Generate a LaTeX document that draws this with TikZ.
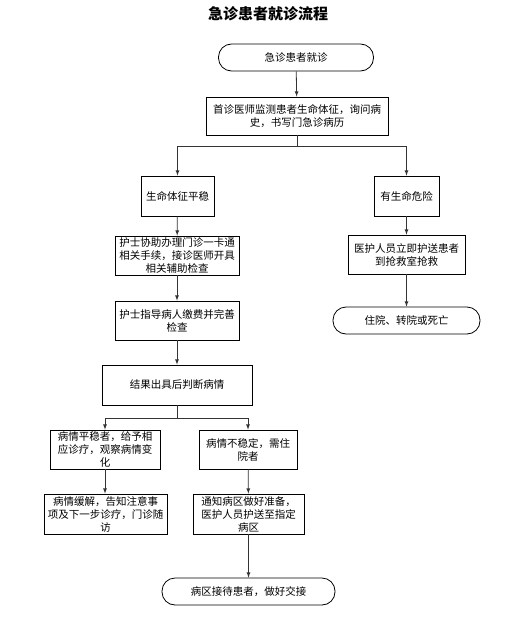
\documentclass[tikz,border=0pt]{standalone}
\usepackage{fontspec}
\newfontfamily\cjk{Noto Sans CJK SC}
\usetikzlibrary{arrows,shapes}

\begin{document}
\begin{tikzpicture}[x=1pt, y=-1pt, line width=0.8pt,
box/.style={draw, rectangle, inner sep=0pt, align=center, font=\cjk\fontsize{10.5}{13}\selectfont},
term/.style={box, rounded corners=13pt, minimum height=27pt},
flow/.style={-latex, draw=black!80}]
\useasboundingbox (0,0) rectangle (530,629);
\node[font=\cjk\bfseries\fontsize{15}{18}\selectfont] (title) at (268,14) {急诊患者就诊流程};
\node[term, minimum width=155pt] (start) at (296,57.5) {急诊患者就诊};
\node[box, minimum width=182pt, minimum height=38pt] (exam) at (297,116) {首诊医师监测患者生命体征，询问病\\史，书写门急诊病历};
\node[box, minimum width=73pt, minimum height=40pt] (stable) at (177.5,196) {生命体征平稳};
\node[box, minimum width=65pt, minimum height=40pt] (danger) at (406.5,196) {有生命危险};
\node[box, minimum width=124pt, minimum height=39pt] (assist) at (177,255.5) {护士协助办理门诊一卡通\\相关手续，接诊医师开具\\相关辅助检查};
\node[box, minimum width=117pt, minimum height=39pt] (rescue) at (406.5,254.5) {医护人员立即护送患者\\到抢救室抢救};
\node[term, minimum width=147pt] (outcome) at (406.5,320.5) {住院、转院或死亡};
\node[box, minimum width=124pt, minimum height=39pt] (pay) at (177,320.5) {护士指导病人缴费并完善\\检查};
\node[box, minimum width=150pt, minimum height=40pt] (judge) at (177,385) {结果出具后判断病情};
\node[box, minimum width=110pt, minimum height=39pt] (mild) at (105,449.5) {病情平稳者，给予相\\应诊疗，观察病情变\\化};
\node[box, minimum width=98pt, minimum height=39pt] (unstable) at (248,449.5) {病情不稳定，需住\\院者};
\node[box, minimum width=123pt, minimum height=40pt] (relief) at (105.5,514) {病情缓解，告知注意事\\项及下一步诊疗，门诊随\\访};
\node[box, minimum width=111pt, minimum height=40pt] (notify) at (248.5,514) {通知病区做好准备，\\医护人员护送至指定\\病区};
\node[term, minimum width=173pt] (end) at (248.5,591.5) {病区接待患者，做好交接};
\draw[flow] (start) -- (exam);
\draw[flow] (exam.south) -- ++(0,11) -| (stable.north);
\draw[flow] (exam.south) -- ++(0,11) -| (danger.north);
\draw[flow] (stable) -- (assist);
\draw[flow] (assist) -- (pay);
\draw[flow] (pay) -- (judge);
\draw[flow] (danger) -- (rescue);
\draw[flow] (rescue) -- (outcome);
\draw[flow] (judge.south) -- ++(0,13) -| (mild.north);
\draw[flow] (judge.south) -- ++(0,13) -| (unstable.north);
\draw[flow] (mild) -- (mild|-relief.north);
\draw[flow] (unstable) -- (notify);
\draw[flow] (notify) -- (end);
\end{tikzpicture}
\end{document}
